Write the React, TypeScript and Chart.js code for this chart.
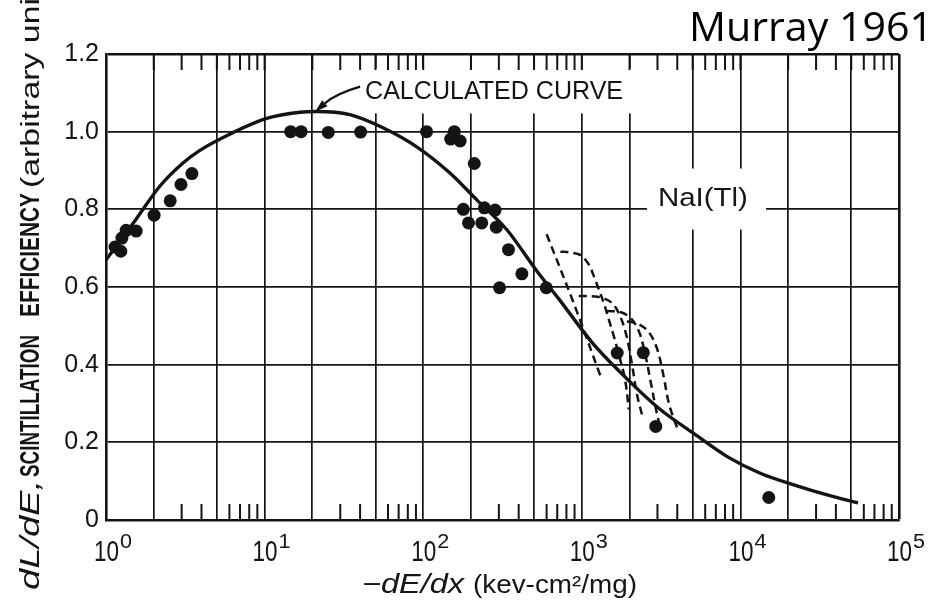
import React, { useEffect, useRef } from "react";
import { Chart, registerables } from "chart.js";

Chart.register(...registerables);

// ---- data ----
const pointX = [1.14, 1.24, 1.26, 1.34, 1.55, 2.01, 2.54, 2.97, 3.48, 14.6, 17.0, 25.2, 40.3, 105, 157, 149, 171, 210, 179, 243, 284, 193, 234, 289, 345, 419, 303, 597, 1672, 2443, 2927, 15100];
const pointY = [0.703, 0.692, 0.726, 0.746, 0.744, 0.785, 0.822, 0.864, 0.892, 1.0, 1.0, 0.998, 0.999, 1.0, 1.0, 0.981, 0.976, 0.918, 0.8, 0.804, 0.798, 0.765, 0.765, 0.754, 0.696, 0.634, 0.598, 0.598, 0.43, 0.431, 0.241, 0.058];

const curveX = [1, 1.52, 2.19, 3.07, 3.91, 6.35, 10.3, 16.7, 21.3, 34.5, 55.8, 91, 148, 217, 336, 519, 714, 1162, 1714, 3070, 5150, 8360, 13560, 21960, 35700, 55200];
const curveY = [0.67, 0.77, 0.86, 0.92, 0.952, 0.998, 1.034, 1.05, 1.052, 1.044, 1.01, 0.961, 0.893, 0.825, 0.748, 0.642, 0.57, 0.457, 0.384, 0.287, 0.221, 0.162, 0.119, 0.09, 0.064, 0.044];

const d1X = [600, 890, 1319];
const d1Y = [0.736, 0.558, 0.368];
const d2X = [733, 847, 981, 1107, 1191, 1282, 1378, 1483, 1595, 1714, 1871, 1982];
const d2Y = [0.691, 0.689, 0.682, 0.658, 0.628, 0.593, 0.558, 0.515, 0.472, 0.425, 0.363, 0.284];
const d3X = [957, 1281, 1527, 1714, 1898, 2070, 2227, 2397];
const d3Y = [0.577, 0.574, 0.561, 0.532, 0.48, 0.402, 0.324, 0.271];
const d4X = [1440, 1766, 2042, 2295, 2506, 2735, 2941, 3072];
const d4Y = [0.538, 0.535, 0.519, 0.485, 0.428, 0.35, 0.284, 0.25];
const d5X = [1927, 2295, 2655, 2983, 3258, 3556, 3992];
const d5Y = [0.512, 0.504, 0.483, 0.441, 0.376, 0.297, 0.237];

const decadeValues = [1, 10, 100, 1000, 10000, 100000];
const decadeBase = "10";
const decadeExponents = ["0", "1", "2", "3", "4", "5"];
const majorTicks = [1, 2, 5, 10, 20, 50, 100, 200, 500, 1000, 2000, 5000, 10000, 20000, 50000, 100000];
const minorMultipliers = [3, 4, 6, 7, 8, 9];
const yTickValues = [0, 0.2, 0.4, 0.6, 0.8, 1.0, 1.2];
const yTickLabels = ["0", "0.2", "0.4", "0.6", "0.8", "1.0", "1.2"];

const INK = "#141414";

function zip(xs: number[], ys: number[]) {
  return xs.map((x, i) => ({ x, y: ys[i] }));
}

function fitText(ctx: CanvasRenderingContext2D, text: string, x: number, y: number, width: number, font: string) {
  ctx.font = font;
  const w = ctx.measureText(text).width;
  ctx.save();
  ctx.translate(x, y);
  ctx.scale(width / w, 1);
  ctx.fillText(text, 0, 0);
  ctx.restore();
}

const annotPlugin = {
  id: "annot",
  beforeDatasetsDraw(chart: any) {
    const { ctx, chartArea } = chart;
    const xs = chart.scales.x;
    const ys = chart.scales.y;
    ctx.save();
    ctx.fillStyle = "#ffffff";
    // clearing behind "CALCULATED CURVE"
    const a1 = xs.getPixelForValue(40), a2 = xs.getPixelForValue(2500);
    const b1 = ys.getPixelForValue(1.163), b2 = ys.getPixelForValue(1.047);
    ctx.fillRect(a1, b1, a2 - a1, b2 - b1);
    // clearing behind "NaI(Tl)"
    const c1 = xs.getPixelForValue(2577), c2 = xs.getPixelForValue(14500);
    const e1 = ys.getPixelForValue(0.905), e2 = ys.getPixelForValue(0.748);
    ctx.fillRect(c1, e1, c2 - c1, e2 - e1);
    // ticks along top and bottom borders
    ctx.strokeStyle = INK;
    ctx.lineWidth = 2;
    const L = 16;
    const tickVals: number[] = [];
    for (let n = 0; n < 5; n++) for (const m of minorMultipliers) tickVals.push(m * Math.pow(10, n));
    ctx.beginPath();
    for (const v of tickVals) {
      const px = xs.getPixelForValue(v);
      ctx.moveTo(px, chartArea.top);
      ctx.lineTo(px, chartArea.top + L);
      ctx.moveTo(px, chartArea.bottom);
      ctx.lineTo(px, chartArea.bottom - L);
    }
    for (const v of majorTicks) {
      const px = xs.getPixelForValue(v);
      ctx.moveTo(px, chartArea.top);
      ctx.lineTo(px, chartArea.top + L);
    }
    ctx.stroke();
    ctx.restore();
  },
  afterDraw(chart: any) {
    const { ctx, chartArea } = chart;
    const xs = chart.scales.x;
    const ys = chart.scales.y;
    ctx.save();
    ctx.fillStyle = INK;
    ctx.textAlign = "left";
    ctx.textBaseline = "alphabetic";

    // X tick labels: 10 with raised exponent
    decadeValues.forEach((v, i) => {
      const px = xs.getPixelForValue(v);
      fitText(ctx, decadeBase, px - 12, chartArea.bottom + 41, 25, "30px 'Liberation Sans'");
      fitText(ctx, decadeExponents[i], px + 14, chartArea.bottom + 28, 12, "20px 'Liberation Sans'");
    });

    // Y axis title (rotated)
    ctx.save();
    ctx.translate(39, 590);
    ctx.rotate(-Math.PI / 2);
    fitText(ctx, "dL/dE,", 0, 0, 110, "italic 28px 'Liberation Sans'");
    fitText(ctx, "SCINTILLATION", 113, 0, 142, "bold 27px 'Liberation Sans'");
    fitText(ctx, "EFFICIENCY", 273, 0, 124, "bold 27px 'Liberation Sans'");
    ctx.font = "26px 'Liberation Sans'";
    const wa = ctx.measureText("(arbitrary uni").width;
    ctx.save();
    ctx.translate(402, 0);
    ctx.scale(190 / wa, 1);
    ctx.fillText("(arbitrary units)", 0, 0);
    ctx.restore();
    ctx.restore();

    // X axis title
    fitText(ctx, "\u2212dE/dx", 362, 593, 102, "italic 27px 'Liberation Sans'");
    fitText(ctx, "(kev-cm\u00B2/mg)", 473, 593, 164, "25px 'Liberation Sans'");

    // Corner note
    ctx.fillStyle = "#000";
    fitText(ctx, "Murray 1961", 689, 41, 244, "40px 'Open Sans'");
    ctx.fillStyle = INK;

    // CALCULATED CURVE label
    fitText(ctx, "CALCULATED CURVE", xs.getPixelForValue(43), ys.getPixelForValue(1.085), 258, "26px 'Liberation Sans'");

    // NaI(Tl) label
    fitText(ctx, "NaI(Tl)", xs.getPixelForValue(3020), ys.getPixelForValue(0.809), 90, "26px 'Liberation Sans'");

    // Arrow to calculated curve
    const tx = xs.getPixelForValue(40), ty = ys.getPixelForValue(1.116);
    const cx = xs.getPixelForValue(28.2), cy = ys.getPixelForValue(1.098);
    const hx = xs.getPixelForValue(20.8), hy = ys.getPixelForValue(1.051);
    const ang = Math.atan2(hy - cy, hx - cx);
    const bx = hx - 13 * Math.cos(ang), by = hy - 13 * Math.sin(ang);
    ctx.strokeStyle = INK;
    ctx.lineWidth = 2.2;
    ctx.beginPath();
    ctx.moveTo(tx, ty);
    ctx.quadraticCurveTo(cx, cy, bx, by);
    ctx.stroke();
    ctx.beginPath();
    ctx.moveTo(hx, hy);
    ctx.lineTo(bx + 4 * Math.sin(ang), by - 4 * Math.cos(ang));
    ctx.lineTo(bx - 4 * Math.sin(ang), by + 4 * Math.cos(ang));
    ctx.closePath();
    ctx.fill();
    ctx.restore();
  },
};

export default function App() {
  const ref = useRef<HTMLCanvasElement>(null);
  useEffect(() => {
    if (!ref.current) return;
    const dashed = (xs: number[], ys: number[]) => ({
      data: zip(xs, ys),
      showLine: true,
      borderColor: INK,
      borderWidth: 2.5,
      borderDash: [8, 5],
      pointRadius: 0,
      tension: 0.35,
      fill: false,
    });
    const chart = new Chart(ref.current, {
      type: "scatter",
      data: {
        datasets: [
          {
            data: zip(pointX, pointY),
            pointRadius: 6.5,
            pointBackgroundColor: INK,
            pointBorderWidth: 0,
            showLine: false,
          },
          {
            data: zip(curveX, curveY),
            showLine: true,
            borderColor: INK,
            borderWidth: 3.4,
            pointRadius: 0,
            cubicInterpolationMode: "monotone",
            fill: false,
          },
          dashed(d1X, d1Y),
          dashed(d2X, d2Y),
          dashed(d3X, d3Y),
          dashed(d4X, d4Y),
          dashed(d5X, d5Y),
        ] as any,
      },
      options: {
        animation: false,
        responsive: false,
        maintainAspectRatio: false,
        layout: { padding: { left: 0, top: 54, right: 44, bottom: 0 } },
        plugins: { legend: { display: false }, tooltip: { enabled: false } },
        scales: {
          x: {
            type: "logarithmic",
            min: 1,
            max: 100000,
            afterBuildTicks: (s: any) => {
              s.ticks = majorTicks.map((v) => ({ value: v }));
            },
            afterFit: (s: any) => {
              s.height = 84;
            },
            grid: {
              color: INK,
              lineWidth: (c: any) => (c.tick && c.tick.value === 100000 ? 2.6 : 1.7),
              drawTicks: false,
            },
            border: { display: true, color: INK, width: 2.6 },
            ticks: { display: false, autoSkip: false, maxRotation: 0 },
          },
          y: {
            type: "linear",
            min: 0,
            max: 1.2,
            afterBuildTicks: (s: any) => {
              s.ticks = yTickValues.map((v) => ({ value: v }));
            },
            afterFit: (s: any) => {
              s.width = 106;
            },
            grid: {
              color: INK,
              lineWidth: (c: any) => (c.tick && c.tick.value === 1.2 ? 2.6 : 1.7),
              drawTicks: false,
            },
            border: { display: true, color: INK, width: 2.6 },
            ticks: {
              padding: 7,
              color: INK,
              font: { family: "'Liberation Sans'", size: 25 },
              callback: (v: any) => {
                const i = yTickValues.findIndex((t) => Math.abs(t - Number(v)) < 1e-6);
                return i >= 0 ? yTickLabels[i] : "";
              },
            },
          },
        },
      },
      plugins: [annotPlugin],
    } as any);
    return () => chart.destroy();
  }, []);
  return (
    <div style={{ position: "fixed", left: 0, top: 0, width: 943, height: 604, background: "#fff" }}>
      <canvas ref={ref} width={943} height={604} style={{ width: 943, height: 604, display: "block" }} />
    </div>
  );
}
